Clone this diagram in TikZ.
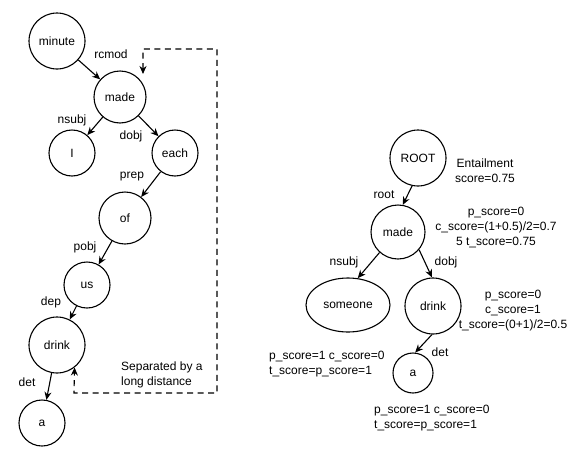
\documentclass[tikz,border=0pt]{standalone}
\usepackage{fontspec}
\setmainfont{Liberation Sans}
\usetikzlibrary{arrows.meta,shapes.geometric}
\begin{document}
\begin{tikzpicture}[x=1pt,y=-1pt,
  word/.style={draw,circle,line width=1.1pt,inner sep=0pt,font=\fontsize{12}{14}\selectfont},
  oval/.style={draw,ellipse,line width=1.1pt,inner sep=0pt,font=\fontsize{12}{14}\selectfont},
  lab/.style={inner sep=0pt,font=\fontsize{12}{15}\selectfont},
  edge/.style={line width=1.1pt,-{Stealth[length=8pt,width=7pt]}},
  far/.style={line width=1.1pt,dash pattern=on 6pt off 4.5pt,{Stealth[length=8pt,width=7pt]}-{Stealth[length=8pt,width=7pt]}},
]
\useasboundingbox (0,0) rectangle (588,450);

% left tree
\node[word,minimum size=56pt] (minute) at (57,41) {minute};
\node[word,minimum size=52pt] (made) at (120,97) {made};
\node[word,minimum size=46pt] (I) at (72,153) {I};
\node[word,minimum size=46pt] (each) at (175,153) {each};
\node[word,minimum size=52pt] (of) at (125,218) {of};
\node[word,minimum size=46pt] (us) at (87,285) {us};
\node[word,minimum size=56pt] (drink) at (57,345) {drink};
\node[word,minimum size=46pt] (a) at (42,423) {a};

\draw[edge] (minute) -- (made);
\draw[edge] (made) -- (I);
\draw[edge] (made) -- (each);
\draw[edge] (each) -- (of);
\draw[edge] (of) -- (us);
\draw[edge] (us) -- (drink);
\draw[edge] (drink) -- (a);

\node[lab] (l-rcmod) at (111,54) {rcmod};
\node[lab] (l-nsubj) at (72,120) {nsubj};
\node[lab] (l-dobj) at (131,136) {dobj};
\node[lab] (l-prep) at (132,177) {prep};
\node[lab] (l-pobj) at (85,247) {pobj};
\node[lab] (l-dep) at (51,302) {dep};
\node[lab] (l-det) at (27,382) {det};

\coordinate (dtop) at (143,74);
\coordinate (c1) at (143,49);
\coordinate (c2) at (217,49);
\coordinate (c3) at (217,393);
\coordinate (c4) at (74,393);
\draw[far] (dtop) -- (c1) -- (c2) -- (c3) -- (c4) -- (drink.-52);

\node[lab,align=left,anchor=west] (sep) at (121,375) {Separated by a\\long distance};

% right tree
\node[word,minimum size=56pt] (root) at (418,158) {ROOT};
\node[word,minimum size=54pt] (rmade) at (398,232) {made};
\node[oval,minimum width=84pt,minimum height=54pt] (someone) at (348,305) {someone};
\node[word,minimum size=56pt] (rdrink) at (433,306) {drink};
\node[word,minimum size=40pt] (ra) at (413,373) {a};

\draw[edge] (root.-102) -- (rmade.80);
\draw[edge] (rmade.-132) -- (someone.70);
\draw[edge] (rmade.-40) -- (rdrink.92);
\draw[edge] (rdrink.-92) -- (ra.84);

\node[lab] (r-root) at (384,195) {root};
\node[lab] (r-nsubj) at (344,262) {nsubj};
\node[lab] (r-dobj) at (446,262) {dobj};
\node[lab] (r-det) at (440,352) {det};

\node[lab,align=center] (ent) at (485,171) {Entailment\\score=0.75};
\node[lab,align=center] (madesc) at (496,227) {p\_score=0\\c\_score=(1+0.5)/2=0.7\\5 t\_score=0.75};
\node[lab,align=center] (drinksc) at (513,311) {p\_score=0\\c\_score=1\\t\_score=(0+1)/2=0.5};
\node[lab,align=left,anchor=west] (somesc) at (269,364) {p\_score=1 c\_score=0\\t\_score=p\_score=1};
\node[lab,align=left,anchor=west] (asc) at (374,418) {p\_score=1 c\_score=0\\t\_score=p\_score=1};
\end{tikzpicture}
\end{document}
